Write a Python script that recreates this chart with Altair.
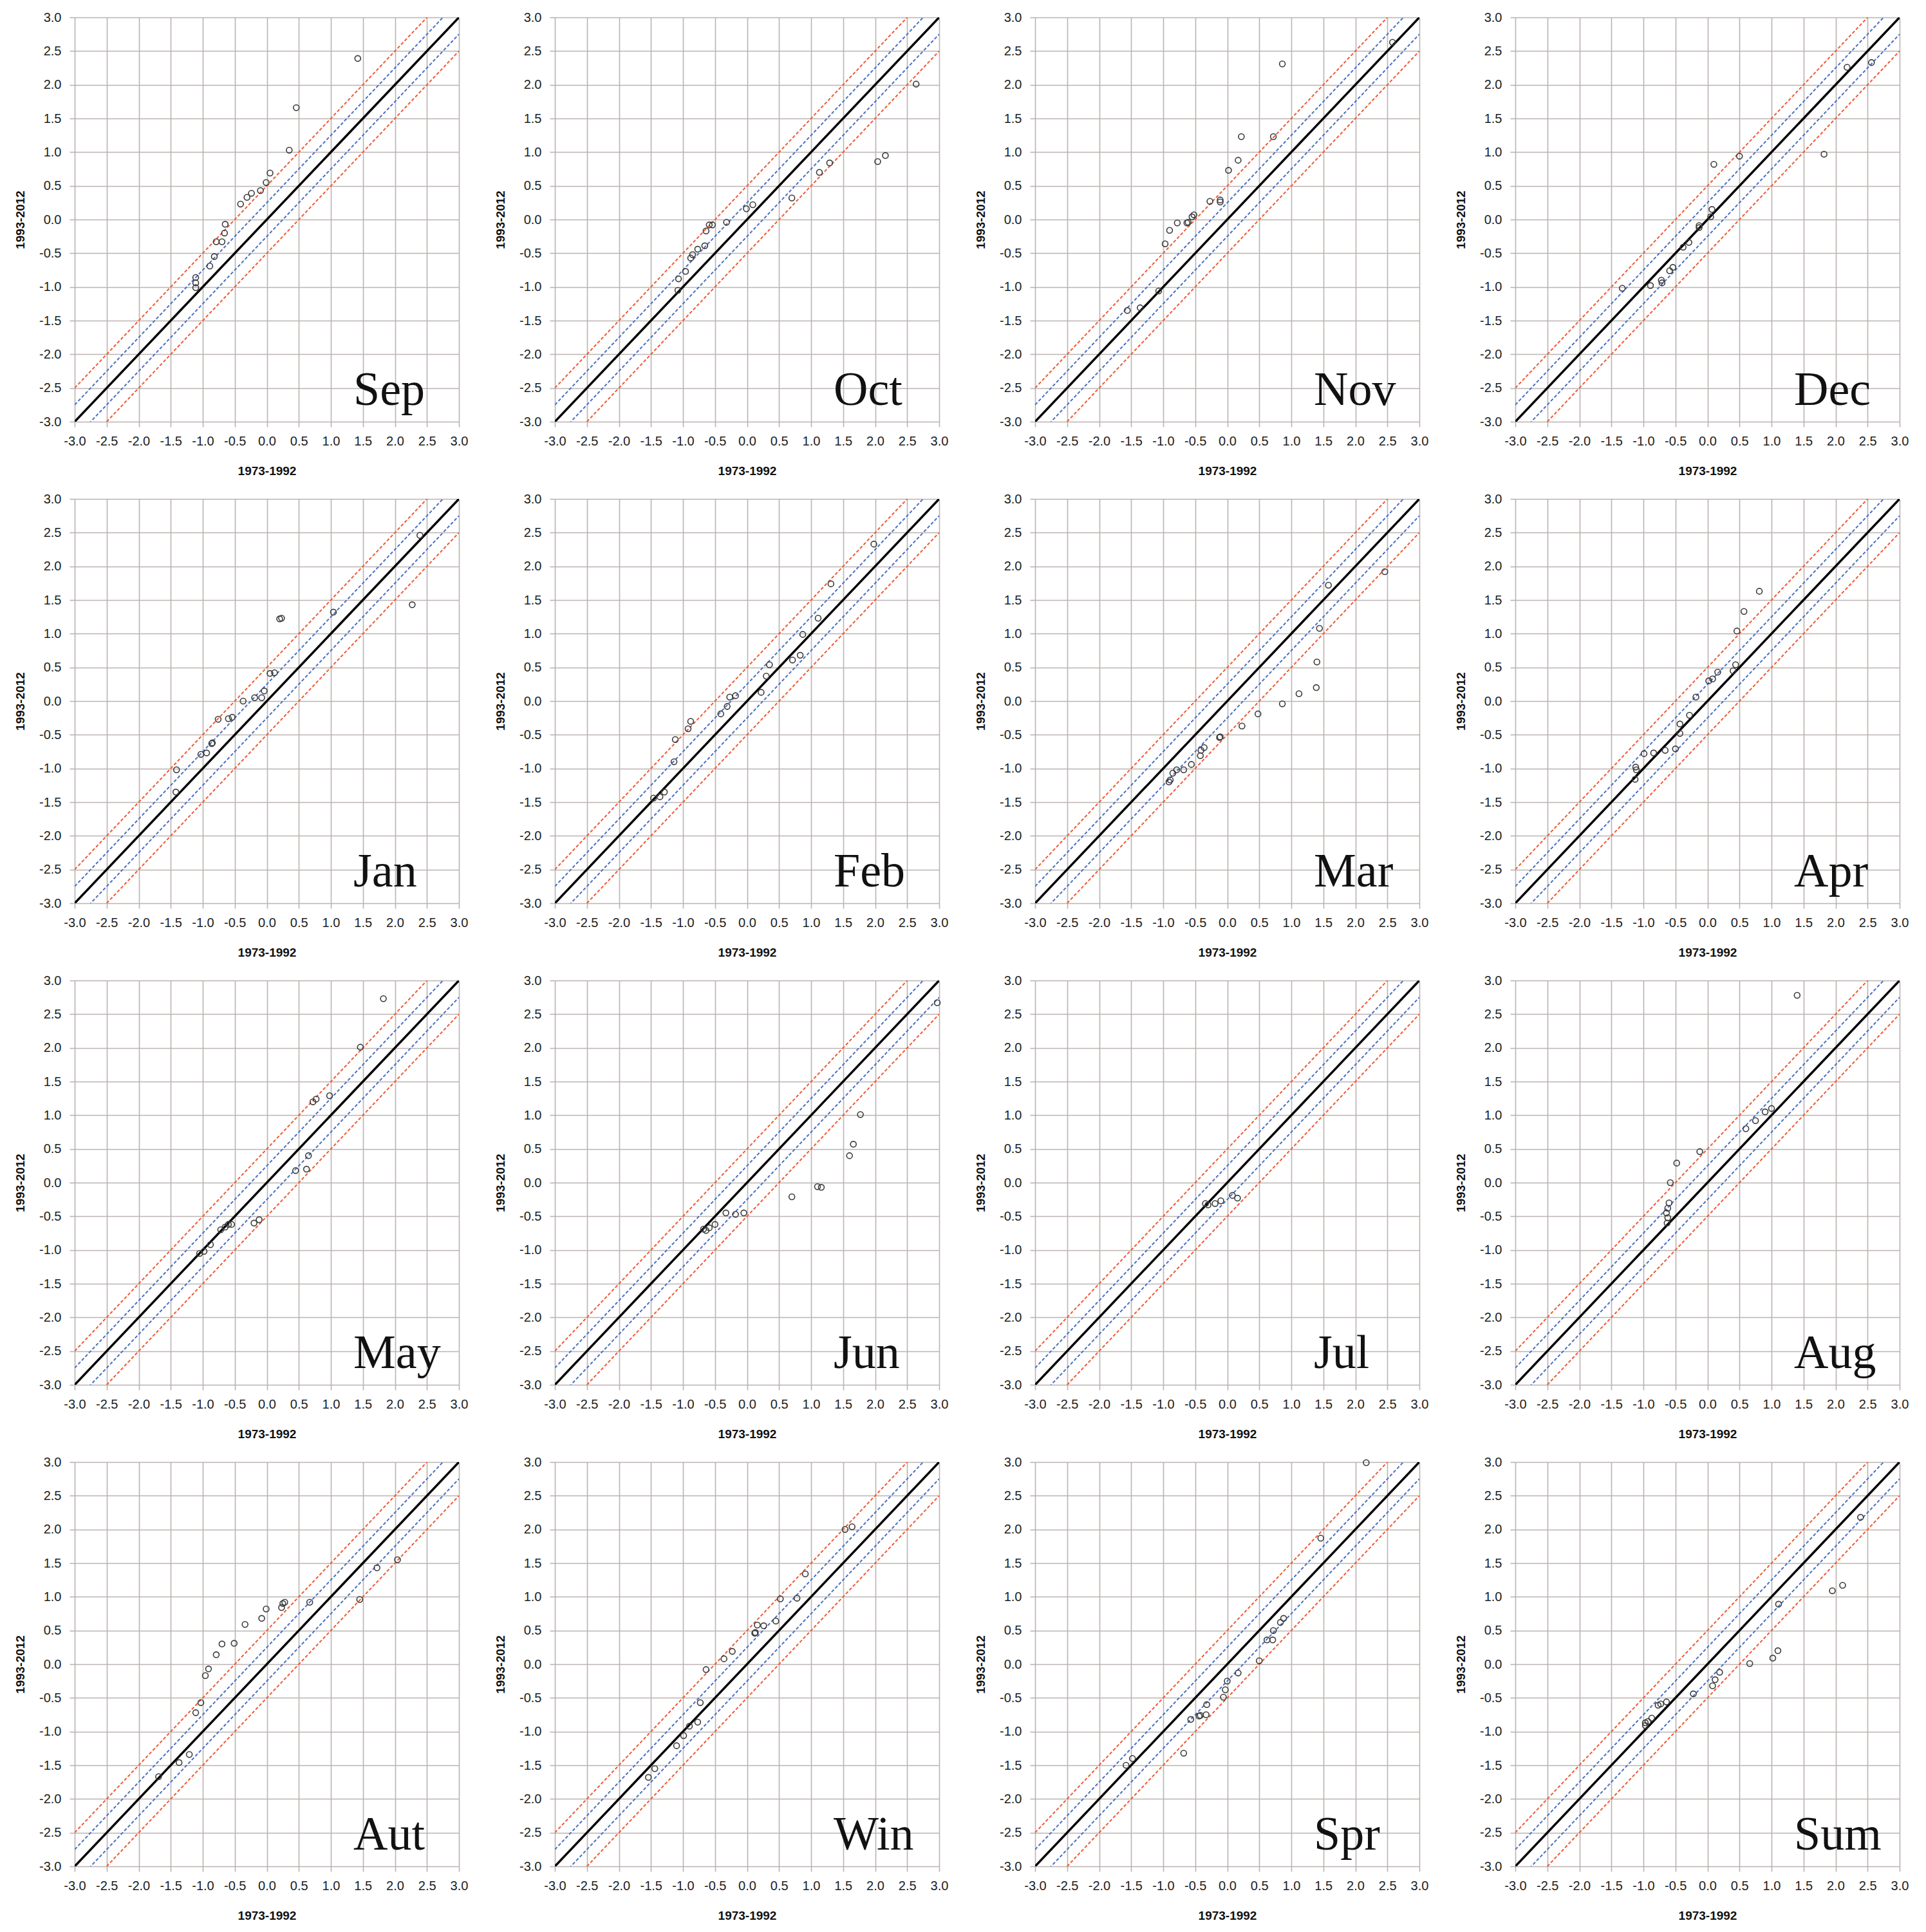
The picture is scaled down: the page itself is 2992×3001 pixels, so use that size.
import altair as alt
import pandas as pd

# ---------------- data ----------------
panel_names = ["Sep", "Oct", "Nov", "Dec", "Jan", "Feb", "Mar", "Apr",
               "May", "Jun", "Jul", "Aug", "Aut", "Win", "Spr", "Sum"]

sep_x = [1.42, 0.46, 0.35, 0.05, -0.01, -0.10, -0.24, -0.31, -0.41, -0.65, -0.66, -0.70, -0.79, -0.82, -0.89, -1.11, -1.11, -1.11]
sep_y = [2.39, 1.66, 1.03, 0.69, 0.55, 0.43, 0.39, 0.33, 0.23, -0.07, -0.20, -0.33, -0.33, -0.55, -0.69, -0.86, -0.94, -1.01]

oct_x = [2.64, 2.16, 2.04, 1.29, 1.13, 0.70, 0.09, -0.01, -0.32, -0.54, -0.59, -0.64, -0.66, -0.77, -0.85, -0.88, -0.96, -1.07, -1.08]
oct_y = [2.01, 0.95, 0.86, 0.84, 0.70, 0.32, 0.22, 0.16, -0.04, -0.08, -0.08, -0.17, -0.39, -0.44, -0.52, -0.57, -0.77, -0.88, -1.05]

nov_x = [2.58, 0.86, 0.22, 0.72, 0.17, 0.02, -0.27, -0.11, -0.11, -0.52, -0.55, -0.61, -0.63, -0.78, -0.90, -0.97, -1.07, -1.36, -1.56]
nov_y = [2.63, 2.31, 1.23, 1.23, 0.88, 0.73, 0.27, 0.29, 0.26, 0.07, 0.04, -0.04, -0.05, -0.05, -0.16, -0.36, -1.06, -1.31, -1.35]

dec_x = [2.56, 2.18, 1.82, 0.50, 0.10, 0.07, 0.05, -0.13, -0.13, -0.29, -0.38, -0.54, -0.59, -0.72, -0.71, -0.89, -1.33]
dec_y = [2.33, 2.26, 0.97, 0.94, 0.82, 0.15, 0.04, -0.09, -0.12, -0.34, -0.41, -0.71, -0.76, -0.90, -0.94, -0.98, -1.02]

jan_x = [2.39, 2.27, 1.04, 0.23, 0.20, 0.12, 0.05, -0.04, -0.08, -0.19, -0.37, -0.54, -0.60, -0.76, -0.85, -0.86, -0.94, -1.03, -1.41, -1.42]
jan_y = [2.46, 1.43, 1.32, 1.23, 1.22, 0.42, 0.41, 0.15, 0.05, 0.05, 0.00, -0.24, -0.26, -0.27, -0.62, -0.63, -0.77, -0.79, -1.02, -1.35]

feb_x = [1.98, 1.31, 1.11, 0.87, 0.83, 0.71, 0.35, 0.30, 0.22, -0.18, -0.27, -0.31, -0.41, -0.88, -0.92, -1.12, -1.14, -1.29, -1.36, -1.46]
feb_y = [2.33, 1.74, 1.23, 0.99, 0.68, 0.61, 0.54, 0.37, 0.13, 0.08, 0.06, -0.08, -0.19, -0.30, -0.41, -0.57, -0.90, -1.35, -1.42, -1.44]

mar_x = [2.46, 1.58, 1.44, 1.40, 1.39, 1.12, 0.86, 0.48, 0.23, -0.11, -0.12, -0.36, -0.41, -0.42, -0.56, -0.68, -0.79, -0.85, -0.89, -0.91]
mar_y = [1.92, 1.72, 1.08, 0.58, 0.20, 0.11, -0.04, -0.19, -0.37, -0.53, -0.54, -0.69, -0.73, -0.81, -0.94, -1.02, -1.02, -1.07, -1.17, -1.20]

apr_x = [0.81, 0.57, 0.46, 0.44, 0.40, 0.16, 0.08, 0.02, -0.18, -0.28, -0.43, -0.43, -0.50, -0.66, -0.84, -0.99, -1.12, -1.11, -1.13]
apr_y = [1.63, 1.33, 1.04, 0.54, 0.45, 0.43, 0.33, 0.30, 0.06, -0.21, -0.34, -0.48, -0.71, -0.73, -0.77, -0.78, -0.98, -1.02, -1.16]

may_x = [1.82, 1.46, 0.98, 0.77, 0.72, 0.65, 0.62, 0.45, -0.12, -0.20, -0.55, -0.60, -0.65, -0.72, -0.88, -0.98, -1.05]
may_y = [2.73, 2.01, 1.29, 1.24, 1.20, 0.40, 0.20, 0.18, -0.55, -0.60, -0.62, -0.62, -0.66, -0.70, -0.92, -1.02, -1.05]

jun_x = [2.97, 1.77, 1.66, 1.60, 1.16, 1.10, 0.70, -0.05, -0.18, -0.33, -0.50, -0.59, -0.64, -0.68]
jun_y = [2.67, 1.01, 0.57, 0.40, -0.07, -0.06, -0.21, -0.45, -0.47, -0.45, -0.62, -0.67, -0.71, -0.69]

jul_x = [0.08, 0.16, -0.10, -0.19, -0.34, -0.30]
jul_y = [-0.19, -0.23, -0.27, -0.31, -0.31, -0.33]

aug_x = [1.40, 1.00, 0.90, 0.75, 0.60, -0.12, -0.48, -0.58, -0.60, -0.62, -0.64, -0.62, -0.63]
aug_y = [2.78, 1.10, 1.05, 0.92, 0.80, 0.46, 0.29, 0.00, -0.30, -0.38, -0.45, -0.52, -0.60]

aut_x = [2.04, 1.72, 1.45, 0.67, 0.28, 0.25, 0.23, -0.01, -0.08, -0.34, -0.51, -0.70, -0.79, -0.91, -0.96, -1.03, -1.11, -1.21, -1.37, -1.69]
aut_y = [1.55, 1.43, 0.96, 0.92, 0.92, 0.90, 0.84, 0.82, 0.68, 0.59, 0.31, 0.30, 0.14, -0.07, -0.17, -0.57, -0.72, -1.34, -1.46, -1.67]

win_x = [1.64, 1.53, 0.91, 0.78, 0.52, 0.45, 0.26, 0.16, 0.13, 0.12, -0.23, -0.36, -0.64, -0.73, -0.77, -0.90, -0.99, -1.10, -1.44, -1.54]
win_y = [2.04, 2.00, 1.34, 0.98, 0.97, 0.64, 0.57, 0.58, 0.47, 0.46, 0.19, 0.08, -0.08, -0.57, -0.86, -0.92, -1.06, -1.21, -1.55, -1.68]

spr_x = [2.17, 1.46, 0.88, 0.83, 0.72, 0.71, 0.62, 0.50, 0.17, 0.00, -0.03, -0.06, -0.32, -0.33, -0.42, -0.44, -0.57, -0.68, -1.48, -1.58]
spr_y = [2.99, 1.87, 0.68, 0.62, 0.50, 0.36, 0.36, 0.05, -0.13, -0.25, -0.38, -0.49, -0.60, -0.75, -0.76, -0.77, -0.82, -1.32, -1.40, -1.50]

sum_x = [2.39, 2.11, 1.95, 1.11, 1.10, 1.02, 0.66, 0.19, 0.12, 0.08, -0.22, -0.64, -0.73, -0.77, -0.87, -0.93, -0.97, -0.97]
sum_y = [2.18, 1.17, 1.09, 0.89, 0.20, 0.09, 0.01, -0.12, -0.23, -0.32, -0.44, -0.56, -0.59, -0.61, -0.80, -0.85, -0.87, -0.91]

panel_points = {
    "Sep": (sep_x, sep_y), "Oct": (oct_x, oct_y), "Nov": (nov_x, nov_y), "Dec": (dec_x, dec_y),
    "Jan": (jan_x, jan_y), "Feb": (feb_x, feb_y), "Mar": (mar_x, mar_y), "Apr": (apr_x, apr_y),
    "May": (may_x, may_y), "Jun": (jun_x, jun_y), "Jul": (jul_x, jul_y), "Aug": (aug_x, aug_y),
    "Aut": (aut_x, aut_y), "Win": (win_x, win_y), "Spr": (spr_x, spr_y), "Sum": (sum_x, sum_y),
}

tick_values = [-3.0, -2.5, -2.0, -1.5, -1.0, -0.5, 0.0, 0.5, 1.0, 1.5, 2.0, 2.5, 3.0]
axis_range = [-3.0, 3.0]
ref_offsets = [-0.5, -0.25, 0.0, 0.25, 0.5]
ref_kinds = ["red", "blue", "black", "blue", "red"]

# reference lines y = x + offset, spanning the axis range (clipped to the plot)
line_rows = []
for off, kind in zip(ref_offsets, ref_kinds):
    for xv in axis_range:
        line_rows.append({"x": xv, "y": xv + off, "off": off, "kind": kind})
line_df = pd.DataFrame(line_rows)

# ---------------- styling ----------------
W, H = 597, 628
RED = "#ee5a36"
BLUE = "#4b6fc2"
GRID = "#bbb3b1"
label_expr = "(datum.value < 0 ? '-' : '') + format(abs(datum.value), '.1f')"

scale = alt.Scale(domain=axis_range, nice=False, zero=False)
x_enc = alt.X("x:Q", scale=scale,
              axis=alt.Axis(values=tick_values, labelExpr=label_expr, title="1973-1992",
                            labelPadding=12, titlePadding=27, labelFlush=False, labelOverlap=False))
y_enc = alt.Y("y:Q", scale=scale,
              axis=alt.Axis(values=tick_values, labelExpr=label_expr, title="1993-2012",
                            labelPadding=13, titlePadding=19, labelFlush=False, labelOverlap=False))


def make_panel(name):
    xs, ys = panel_points[name]
    pts = pd.DataFrame({"x": xs, "y": ys})
    base = alt.Chart(line_df)
    red = base.transform_filter(alt.datum.kind == "red").mark_line(
        clip=True, color=RED, strokeWidth=2, strokeDash=[5, 3]
    ).encode(x=x_enc, y=y_enc, detail="off:N")
    blue = base.transform_filter(alt.datum.kind == "blue").mark_line(
        clip=True, color=BLUE, strokeWidth=2, strokeDash=[5, 3]
    ).encode(x=x_enc, y=y_enc, detail="off:N")
    black = base.transform_filter(alt.datum.kind == "black").mark_line(
        clip=True, color="#000000", strokeWidth=3.5
    ).encode(x=x_enc, y=y_enc)
    points = alt.Chart(pts).mark_point(
        shape="circle", filled=False, size=80, strokeWidth=1.6, color="#3a3a3a", opacity=1
    ).encode(x=x_enc, y=y_enc)
    label = alt.Chart(pd.DataFrame({"name": [name]})).mark_text(
        align="left", baseline="alphabetic", font="Liberation Serif", fontSize=74, color="#111111"
    ).encode(text="name:N", x=alt.value(433), y=alt.value(602))
    return alt.layer(red, blue, black, points, label).properties(width=W, height=H)


chart = alt.concat(
    *[make_panel(n) for n in panel_names],
    columns=4,
    spacing={"row": 24, "column": 41},
).properties(
    padding={"left": 14, "top": 9, "right": 5, "bottom": 5}
).configure_view(
    strokeWidth=0
).configure_axis(
    grid=True, gridColor=GRID, gridWidth=1.6, domain=False,
    ticks=True, tickColor=GRID, tickSize=8, tickWidth=1.6,
    labelFont="Liberation Sans Narrow, Liberation Sans", labelFontSize=20, labelColor="#222222",
    titleFont="Liberation Sans", titleFontSize=19, titleFontWeight="bold", titleColor="#111111",
)

chart.save("out.html", embed_options={"renderer": "svg", "actions": False})
